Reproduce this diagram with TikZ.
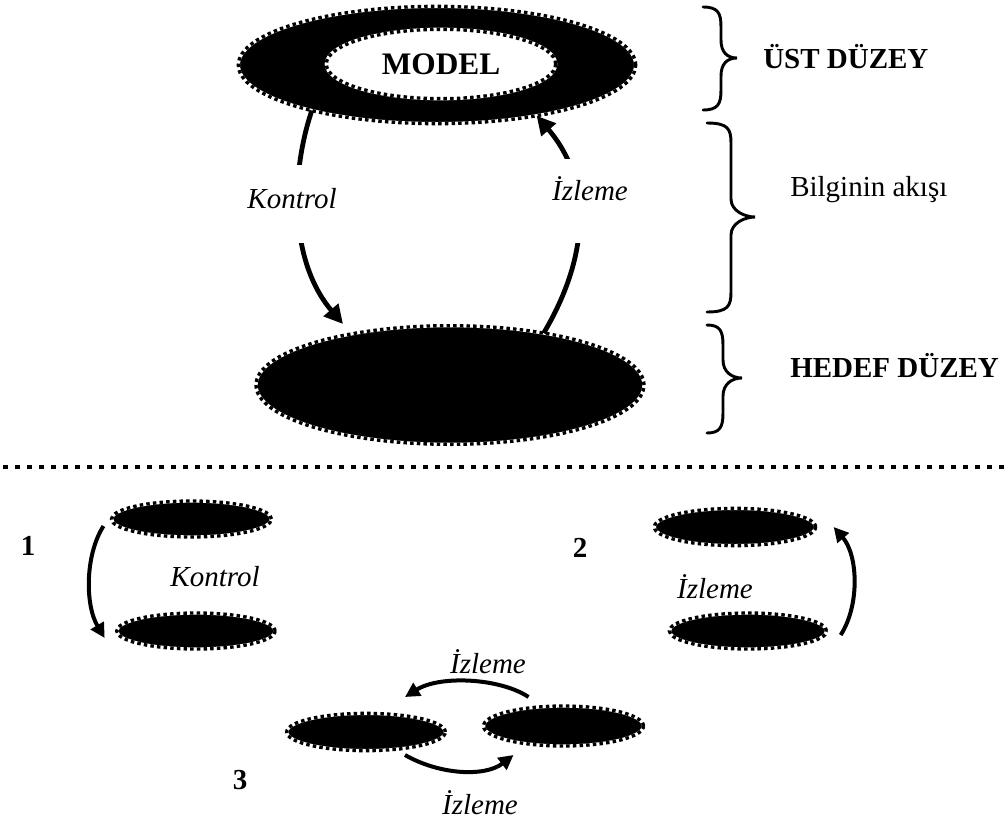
\documentclass[tikz,border=0pt]{standalone}
\usepackage{fontspec}
\setmainfont{Liberation Serif}
\usetikzlibrary{shapes.geometric,arrows.meta}

% a curly brace opening to the right: x0, x of stem, x of tip, top, tip y, bottom
\newcommand\curlybrace[6]{%
  \draw[bracestyle] (#1,#4) .. controls ({#2-3},#4) and (#2,{#4+6}) .. (#2,{#4+20})
    -- (#2,{#5-18}) .. controls (#2,{#5-6}) and ({#3-10},#5) .. (#3,#5)
    .. controls ({#3-10},#5) and (#2,{#5+6}) .. (#2,{#5+18})
    -- (#2,{#6-20}) .. controls (#2,{#6-6}) and ({#2-3},#6) .. (#1,#6);}

\begin{document}
\begin{tikzpicture}[x=0.75pt,y=-0.75pt,
  txt/.style={font=\fontsize{21.75}{26}\selectfont, inner sep=0pt},
  itxt/.style={font=\fontsize{21.75}{26}\selectfont\itshape, inner sep=0pt},
  btxt/.style={font=\fontsize{21.75}{26}\selectfont\bfseries, inner sep=0pt},
  blob/.style={ellipse, inner sep=0pt, outer sep=0pt, fill=black,
    postaction={draw=white, line width=2.5pt},
    postaction={draw=black, line width=2.5pt, dash pattern=on 2.6pt off 2.4pt}},
  hole/.style={blob, fill=white},
  gapbox/.style={itxt, fill=white, inner xsep=2pt, anchor=base},
  flow/.style={line width=3.6pt, -{Triangle[length=14pt,width=14pt]}},
  flowsm/.style={line width=3pt, -{Triangle[length=11pt,width=11pt]}},
  bracestyle/.style={line width=2.2pt, line cap=round},
  sepline/.style={line width=3.6pt, dash pattern=on 4pt off 5pt}]

\useasboundingbox (0,0) rectangle (1004,829);

% ---- upper part: model level and target level ----
\node[blob, minimum width=298pt, minimum height=88pt] (upper) at (437,65) {};
\node[hole, minimum width=172pt, minimum height=52pt,
      font=\fontsize{23.5}{28}\selectfont\bfseries] (model) at (441,64) {MODEL};
\node[blob, minimum width=291pt, minimum height=89pt] (target) at (450,385) {};

% control goes down, monitoring goes up
\draw[flow] (upper.-160) .. controls (290,175) and (290,262) .. (343,324);
\draw[flow] (target.29) .. controls (590,255) and (592,180) .. (upper.-27);
\node[gapbox, text height=32pt, text depth=26pt] (kontrol) at (292,208) {Kontrol};
\node[gapbox, text height=31pt, text depth=32pt] (izleme) at (590,200) {İzleme};

% braces and level names
\curlybrace{703}{721}{737}{7}{58}{110}
\curlybrace{707}{731}{755}{123}{217}{312}
\curlybrace{707}{723}{742}{325}{378}{433}
\node[btxt, anchor=west] (ust) at (763,57) {ÜST DÜZEY};
\node[txt, anchor=west] (akis) at (790,190) {Bilginin akışı};
\node[btxt, anchor=west] (hedef) at (790,366) {HEDEF DÜZEY};

% separator
\draw[sepline] (3,467) -- (1004,467);

% ---- case 1 ----
\node[blob, minimum width=120pt, minimum height=27pt] (a1) at (191.5,519) {};
\node[blob, minimum width=119pt, minimum height=27pt] (b1) at (196,631) {};
\coordinate (a1s) at ([shift={(-8,7)}]a1.west);
\coordinate (b1e) at ([shift={(-12,7)}]b1.west);
\draw[flowsm] (a1s) .. controls (85,555) and (85,605) .. (b1e);
\node[btxt] (n1) at (28,546) {1};
\node[itxt] (k1) at (215,577) {Kontrol};

% ---- case 2 ----
\node[blob, minimum width=121pt, minimum height=28pt] (a2) at (735,527) {};
\node[blob, minimum width=118pt, minimum height=27pt] (b2) at (748,631) {};
\coordinate (b2s) at ([shift={(14,4)}]b2.east);
\coordinate (a2e) at ([shift={(18,0)}]a2.east);
\draw[flowsm] (b2s) .. controls (860,605) and (858,555) .. (a2e);
\node[btxt] (n2) at (580,548) {2};
\node[itxt] (i2) at (715,587) {İzleme};

% ---- case 3 ----
\node[blob, minimum width=119pt, minimum height=28pt] (a3) at (366,732) {};
\node[blob, minimum width=120pt, minimum height=30pt] (b3) at (563.5,726) {};
\coordinate (b3s) at ([shift={(-35,-29)}]b3.center);
\coordinate (a3e) at ([shift={(39,-35)}]a3.center);
\coordinate (a3s) at ([shift={(39,23)}]a3.center);
\coordinate (b3e) at ([shift={(-50,29)}]b3.center);
\draw[flowsm] (b3s) .. controls (500,678) and (440,675) .. (a3e);
\draw[flowsm] (a3s) .. controls (440,775) and (485,777) .. (b3e);
\node[btxt] (n3) at (240,780) {3};
\node[itxt] (i3a) at (488,662) {İzleme};
\node[itxt] (i3b) at (480,803) {İzleme};

\end{tikzpicture}
\end{document}
